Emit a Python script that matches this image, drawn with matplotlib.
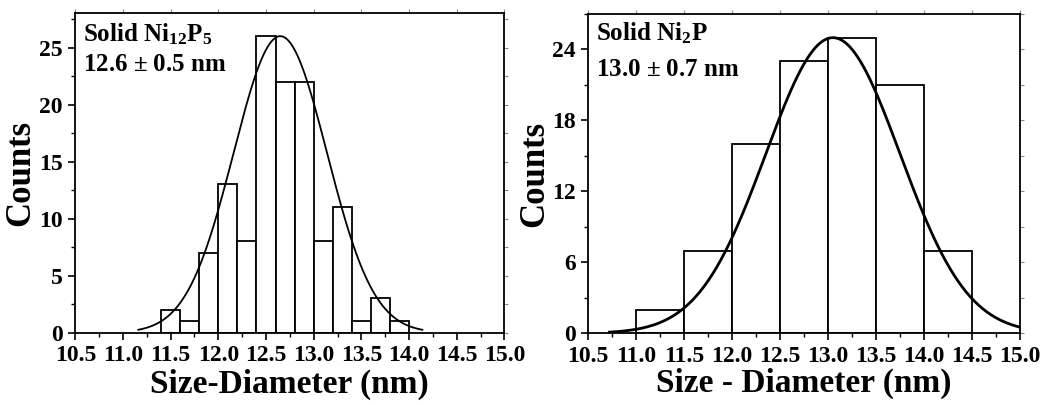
import numpy as np
import matplotlib
matplotlib.use('Agg')
import matplotlib.pyplot as plt
from matplotlib.ticker import MultipleLocator

plt.rcParams['font.family'] = ['Liberation Serif', 'DejaVu Serif']
plt.rcParams['font.weight'] = 'bold'
plt.rcParams['mathtext.fontset'] = 'custom'
plt.rcParams['mathtext.rm'] = 'Liberation Serif:bold'
plt.rcParams['mathtext.bf'] = 'Liberation Serif:bold'
plt.rcParams['mathtext.default'] = 'bf'

# Solid Ni12P5 histogram (bin width 0.2 nm)
ni12p5_edges = [11.4, 11.6, 11.8, 12.0, 12.2, 12.4, 12.6, 12.8, 13.0, 13.2, 13.4, 13.6, 13.8, 14.0]
ni12p5_counts = [2, 1, 7, 13, 8, 26, 22, 22, 8, 11, 1, 3, 1]
ni12p5_fit = dict(center=12.65, sigma=0.49, amp=26.0, xmin=11.16, xmax=14.14)

# Solid Ni2P histogram (bin width 0.5 nm)
ni2p_edges = [11.0, 11.5, 12.0, 12.5, 13.0, 13.5, 14.0, 14.5]
ni2p_counts = [2, 7, 16, 23, 25, 21, 7]
ni2p_fit = dict(center=13.05, sigma=0.70, amp=25.0, xmin=10.72, xmax=15.0)


def gauss(x, center, sigma, amp):
    return amp * np.exp(-(x - center) ** 2 / (2 * sigma ** 2))


def draw_panel(ax, edges, counts, fit, curve_lw, ymax, ymajor, label_lines, xlabel, xlabelpad):
    edges = np.array(edges)
    widths = np.diff(edges)
    ax.bar(edges[:-1], counts, width=widths, align='edge', facecolor='white',
           edgecolor='black', linewidth=1.3, zorder=2)
    xs = np.linspace(fit['xmin'], fit['xmax'], 400)
    ax.plot(xs, gauss(xs, fit['center'], fit['sigma'], fit['amp']), color='black',
            linewidth=curve_lw, zorder=3)
    ax.set_xlim(10.5, 15.0)
    ax.set_ylim(0, ymax)
    ax.xaxis.set_major_locator(MultipleLocator(0.5))
    ax.xaxis.set_minor_locator(MultipleLocator(0.25))
    ax.yaxis.set_major_locator(MultipleLocator(ymajor))
    ax.yaxis.set_minor_locator(MultipleLocator(ymajor / 2))
    ax.xaxis.set_major_formatter(matplotlib.ticker.FormatStrFormatter('%.1f'))
    ax.tick_params(axis='both', which='major', direction='out', length=5, width=1.2,
                   labelsize=17)
    ax.tick_params(axis='x', which='major', pad=4)
    ax.tick_params(axis='y', which='major', pad=4)
    ax.tick_params(axis='both', which='minor', direction='out', length=3, width=1.0)
    for s in ax.spines.values():
        s.set_linewidth(1.3)
    ax.set_ylabel('Counts', fontsize=25, fontweight='bold', labelpad=1)
    ax.set_xlabel(xlabel, fontsize=24, fontweight='bold', labelpad=xlabelpad)
    for (txt, yy) in label_lines:
        ax.text(0.018, yy, txt, transform=ax.transAxes, fontsize=18,
                fontweight='bold', va='center', ha='left', zorder=4)
    # faint mirrored ticks on top and right
    top = ax.secondary_xaxis('top')
    top.xaxis.set_major_locator(MultipleLocator(0.5))
    top.tick_params(direction='out', length=3, width=0.8, colors='#888888', labeltop=False)
    top.spines['top'].set_visible(False)
    right = ax.secondary_yaxis('right')
    right.yaxis.set_major_locator(MultipleLocator(ymajor / 2))
    right.tick_params(direction='out', length=3, width=0.8, colors='#888888', labelright=False)
    right.spines['right'].set_visible(False)


fig = plt.figure(figsize=(10.49, 4.05), dpi=100)
ax1 = fig.add_axes([0.0718, 0.1785, 0.409, 0.7885])
ax2 = fig.add_axes([0.5608, 0.177, 0.4116, 0.7884])

draw_panel(ax1, ni12p5_edges, ni12p5_counts, ni12p5_fit, 1.3, 28, 5,
           [(r'Solid Ni$_{12}$P$_5$', 0.935), (r'12.6 $\pm$ 0.5 nm', 0.84)],
           'Size-Diameter (nm)', 2)
draw_panel(ax2, ni2p_edges, ni2p_counts, ni2p_fit, 2.0, 27, 6,
           [(r'Solid Ni$_2$P', 0.94), (r'13.0 $\pm$ 0.7 nm', 0.825)],
           'Size - Diameter (nm)', 1)

fig.savefig('out.png', dpi=100)
